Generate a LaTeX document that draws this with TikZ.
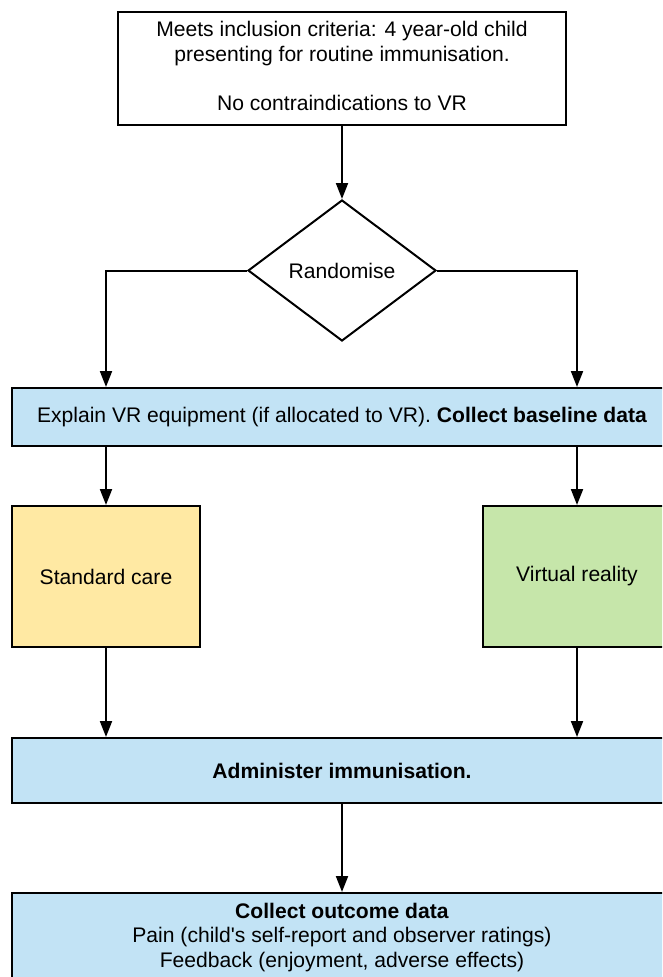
\documentclass[tikz,border=0pt]{standalone}
\usepackage{fontspec}
\setmainfont{Liberation Sans}[Ligatures=TeXOff]
\usetikzlibrary{arrows.meta,shapes.geometric}
\definecolor{barblue}{HTML}{C2E3F5}
\definecolor{scyellow}{HTML}{FFE9A3}
\definecolor{vrgreen}{HTML}{C6E6AA}
\begin{document}
\begin{tikzpicture}[x=1pt,y=-1pt,
  every node/.style={font=\fontsize{21.1}{24.5}\selectfont, text=black},
  boxst/.style={draw=black, line width=2pt, rectangle, inner sep=0pt, align=center},
  arr/.style={draw=black, line width=2pt, -{Triangle[length=16pt,width=12pt]}}]
\useasboundingbox (0,0) rectangle (662,977);
\clip (0,0) rectangle (662,977);
\node[boxst, fill=white, minimum width=448pt, minimum height=113pt] (top) at (342,68.5)
  {\raisebox{6pt}{\begin{tabular}{@{}c@{}}Meets inclusion criteria: 4 year-old child\\presenting for routine immunisation.\\ \\No contraindications to VR\end{tabular}}};
\node[draw=black, line width=2pt, diamond, fill=white, inner sep=0pt, aspect=1.333, minimum width=188pt, minimum height=141pt] (dia) at (342,270.5) {Randomise};
\node[boxst, fill=barblue, minimum width=660pt, minimum height=58pt] (bar1) at (342,417)
  {Explain VR equipment (if allocated to VR). \textbf{Collect baseline data}};
\node[boxst, fill=scyellow, minimum width=188pt, minimum height=141pt] (sc) at (106,576.5) {Standard care};
\node[boxst, fill=vrgreen, minimum width=188pt, minimum height=141pt] (vr) at (577,576.5) {Virtual reality};
\node[boxst, fill=barblue, minimum width=660pt, minimum height=65pt] (bar2) at (342,770.5)
  {\textbf{Administer immunisation.}};
\node[boxst, fill=barblue, minimum width=660pt, minimum height=90pt] (bar3) at (342,938)
  {\raisebox{7pt}{\begin{tabular}{@{}c@{}}\textbf{Collect outcome data}\\Pain (child's self-report and observer ratings)\\Feedback (enjoyment, adverse effects)\end{tabular}}};
\draw[arr] (top.south) -- (dia.north);
\draw[arr] (dia.west) -| (sc.north |- bar1.north);
\draw[arr] (dia.east) -| (vr.north |- bar1.north);
\draw[arr] (sc.north |- bar1.south) -- (sc.north);
\draw[arr] (vr.north |- bar1.south) -- (vr.north);
\draw[arr] (sc.south) -- (sc.south |- bar2.north);
\draw[arr] (vr.south) -- (vr.south |- bar2.north);
\draw[arr] (bar2.south) -- (bar3.north);
\end{tikzpicture}
\end{document}
